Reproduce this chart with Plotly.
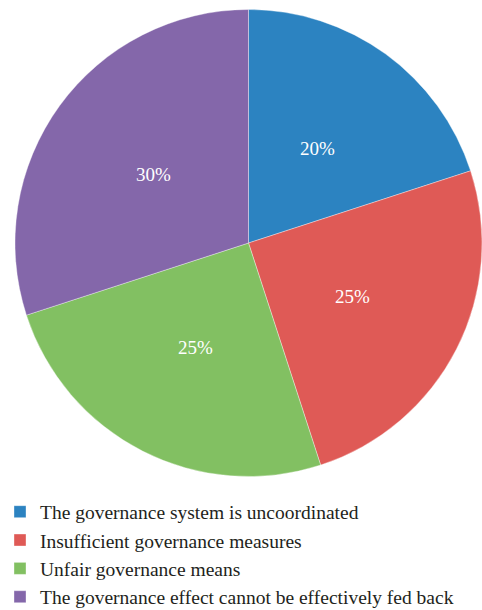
import math
import plotly.graph_objects as go

labels = [
    "The governance system is uncoordinated",
    "Insufficient governance measures",
    "Unfair governance means",
    "The governance effect cannot be effectively fed back",
]
shares = [20, 25, 25, 30]
colors = ["#2C83C1", "#DF5A56", "#82C062", "#8467AA"]

W, H = 482, 610
SERIF = "Liberation Serif"

# pie placement (pixels): centre and diameter of the domain box
cx, cy, dia = 248.5, 243, 467
dom_x = [(cx - dia / 2) / W, min(1.0, (cx + dia / 2) / W)]
dom_y = [1 - (cy + dia / 2) / H, 1 - (cy - dia / 2) / H]

fig = go.Figure(
    go.Pie(
        labels=labels,
        values=shares,
        sort=False,
        direction="clockwise",
        rotation=0,
        marker=dict(colors=colors, line=dict(color="rgba(255,255,255,0.6)", width=0.6)),
        textinfo="none",
        domain=dict(x=dom_x, y=dom_y),
        hoverinfo="label+percent",
    )
)

# percentage labels on each slice's bisector, about halfway out
label_r = 117
total = sum(shares)
start = 0.0
for v in shares:
    mid = (start + v / 2) / total * 2 * math.pi
    start += v
    px = cx + label_r * math.sin(mid)
    py = cy - label_r * math.cos(mid)
    fig.add_annotation(
        x=px / W, y=1 - py / H, xref="paper", yref="paper",
        xanchor="center", yanchor="middle",
        text=f"{v}%", showarrow=False,
        font=dict(family=SERIF, size=19, color="white"),
    )

fig.update_layout(
    width=W,
    height=H,
    margin=dict(l=0, r=0, t=0, b=0, autoexpand=False),
    paper_bgcolor="white",
    plot_bgcolor="white",
    showlegend=True,
    legend=dict(
        x=0.0,
        xanchor="left",
        y=1 - 492.5 / H,
        yanchor="top",
        font=dict(family=SERIF, size=19.5, color="#231F20"),
        bgcolor="rgba(0,0,0,0)",
        borderwidth=0,
    ),
)

fig.write_html("out.html")
